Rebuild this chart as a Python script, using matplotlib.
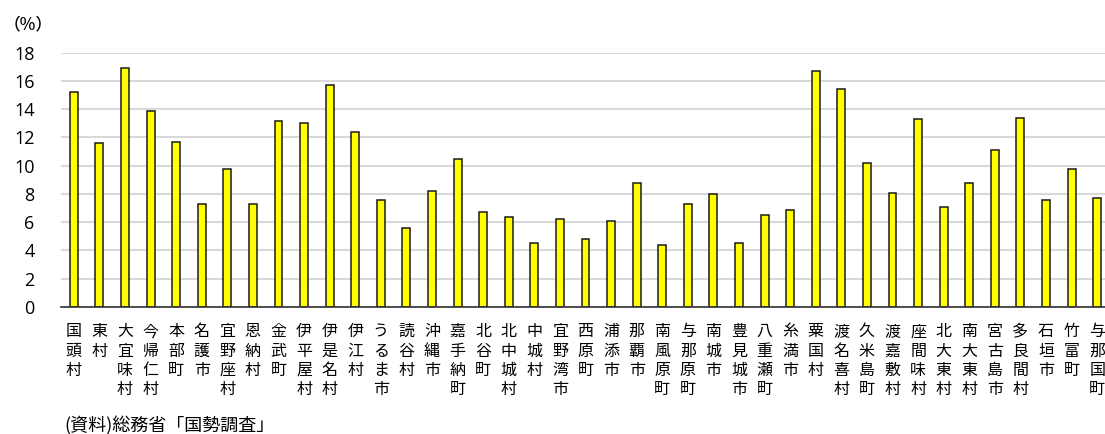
import matplotlib
matplotlib.use("Agg")
import matplotlib.pyplot as plt
import numpy as np

plt.rcParams['font.family'] = ['Noto Sans CJK JP', 'DejaVu Sans']

names = ["国頭村", "東村", "大宜味村", "今帰仁村", "本部町", "名護市", "宜野座村", "恩納村",
         "金武町", "伊平屋村", "伊是名村", "伊江村", "うるま市", "読谷村", "沖縄市", "嘉手納町",
         "北谷町", "北中城村", "中城村", "宜野湾市", "西原町", "浦添市", "那覇市", "南風原町",
         "与那原町", "南城市", "豊見城市", "八重瀬町", "糸満市", "粟国村", "渡名喜村", "久米島町",
         "渡嘉敷村", "座間味村", "北大東村", "南大東村", "宮古島市", "多良間村", "石垣市", "竹富町",
         "与那国町"]
values = [15.2, 11.6, 16.9, 13.9, 11.7, 7.3, 9.8, 7.3,
          13.2, 13.0, 15.7, 12.4, 7.6, 5.6, 8.2, 10.5,
          6.7, 6.4, 4.5, 6.2, 4.8, 6.1, 8.8, 4.4,
          7.3, 8.0, 4.5, 6.5, 6.9, 16.7, 15.4, 10.2,
          8.1, 13.3, 7.1, 8.8, 11.1, 13.4, 7.6, 9.8,
          7.7]
yticks = [0, 2, 4, 6, 8, 10, 12, 14, 16, 18]
unit_label = "（%）"
source = "(資料)総務省「国勢調査」"

W, H = 1105, 434
fig = plt.figure(figsize=(W / 100, H / 100), dpi=100)
ax_left, ax_right, ax_bottom, ax_top = 61, 1110, 307, 52.7
ax = fig.add_axes([ax_left / W, 1 - ax_bottom / H, (ax_right - ax_left) / W, (ax_bottom - ax_top) / H])

x = np.arange(len(names))
ax.bar(x, values, width=0.31, color="#FFFF00", edgecolor="#1a1a1a", linewidth=1.1, zorder=3)

ax.set_xlim(-0.5, len(names) - 0.5)
ax.set_ylim(0, 18)
ax.set_yticks(yticks)
ax.set_yticklabels([str(t) for t in yticks], family="Open Sans", fontsize=13)
ax.tick_params(axis="y", length=0, pad=19)
ax.set_xticks([])
ax.yaxis.grid(True, color="#d9d9d9", linewidth=1.5, zorder=0)
ax.set_axisbelow(True)
for s in ["left", "right", "top"]:
    ax.spines[s].set_visible(False)
ax.spines["bottom"].set_color("#333333")
ax.spines["bottom"].set_linewidth(1.2)
ax.spines["bottom"].set_zorder(4)

# vertical (stacked) category labels
for i, name in enumerate(names):
    for k, ch in enumerate(name):
        ax.annotate(ch, xy=(i, 0), xycoords="data",
                    xytext=(0, -(24.7 + 19.4 * k)), textcoords="offset pixels",
                    ha="center", va="center", fontsize=11.5, color="#000000",
                    annotation_clip=False)

fig.text(4 / W, 1 - 24 / H, unit_label, fontsize=12, va="center", ha="left", fontweight="medium")
fig.text(64 / W, 1 - 426 / H, source, fontsize=13, va="center", ha="left")

fig.savefig("out.png", dpi=100)
